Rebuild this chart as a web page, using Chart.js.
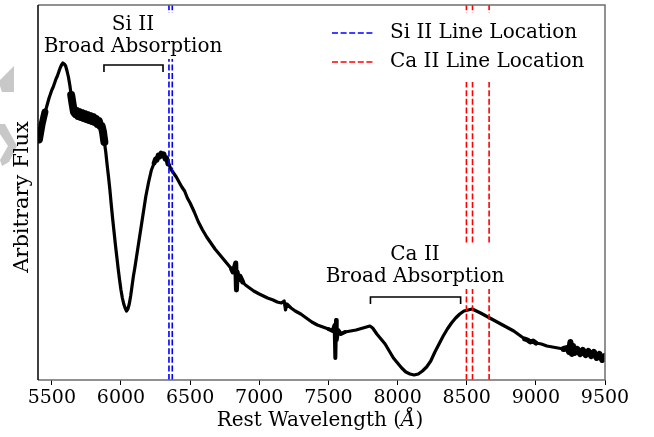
<!DOCTYPE html>
<html>
<head>
<meta charset="utf-8">
<script src="https://cdn.jsdelivr.net/npm/chart.js@4.4.1/dist/chart.umd.min.js"></script>
<style>
  html, body { margin: 0; padding: 0; background: #fff; }
  #wrap { width: 654px; height: 437px; position: relative; }
</style>
</head>
<body>
<div id="wrap"><canvas id="spectrum"></canvas></div>
<script>
// spectrum (flux in arbitrary units)
const wavelength = [
  5400, 5410, 5420, 5430, 5440, 5450, 5460, 5470, 5480, 5490,
  5500, 5510, 5520, 5530, 5540, 5550, 5560, 5570, 5580, 5590,
  5600, 5610, 5620, 5630, 5640, 5650, 5660, 5670, 5680, 5690,
  5700, 5710, 5720, 5730, 5740, 5750, 5760, 5770, 5780, 5790,
  5800, 5810, 5820, 5830, 5840, 5850, 5860, 5870, 5880, 5890,
  5900, 5910, 5920, 5930, 5940, 5950, 5960, 5970, 5980, 5990,
  6000, 6010, 6020, 6030, 6040, 6050, 6060, 6070, 6080, 6090,
  6100, 6110, 6120, 6140, 6160, 6180, 6200, 6220, 6240, 6250,
  6260, 6270, 6280, 6290, 6300, 6310, 6320, 6330, 6340, 6350,
  6360, 6380, 6400, 6420, 6440, 6460, 6480, 6500, 6530, 6560,
  6590, 6620, 6650, 6680, 6710, 6740, 6770, 6800, 6810, 6820,
  6830, 6835, 6840, 6850, 6860, 6880, 6900, 6930, 6960, 7000,
  7030, 7060, 7100, 7130, 7160, 7180, 7190, 7200, 7230, 7260,
  7300, 7340, 7380, 7420, 7460, 7500, 7530, 7545, 7550, 7555,
  7560, 7570, 7590, 7620, 7660, 7700, 7750, 7800, 7820, 7850,
  7880, 7910, 7940, 7970, 8000, 8030, 8060, 8090, 8120, 8150,
  8180, 8210, 8240, 8270, 8300, 8330, 8360, 8390, 8420, 8450,
  8480, 8510, 8540, 8570, 8600, 8640, 8680, 8720, 8760, 8800,
  8840, 8880, 8920, 8940, 8960, 8980, 9000, 9040, 9080, 9120,
  9160, 9200, 9230, 9240, 9250, 9260, 9270, 9280, 9300, 9320,
  9340, 9360, 9380, 9400, 9420, 9440, 9460, 9480, 9500
];
const flux = [
  244, 240, 248, 256, 262, 268, 272, 277, 282, 286,
  290, 293, 297, 301, 304, 308, 312, 315, 317, 316,
  314, 309, 303, 295, 285, 276, 268, 266, 269, 264,
  268, 263, 267, 262, 266, 261, 265, 260, 264, 259,
  263, 258, 261, 256, 259, 254, 254, 248, 238, 228,
  215, 203, 190, 175, 161, 148, 135, 123, 111, 100,
  90, 82, 76, 72, 69, 71, 76, 84, 94, 104,
  112, 121, 130, 148, 166, 184, 198, 210, 217, 221,
  220, 225, 223, 227, 224, 226, 221, 222, 216, 215,
  211, 207, 203, 198, 193, 189, 182, 177, 168, 158,
  150, 143, 137, 131, 126, 121, 116, 111, 108, 112,
  117, 90, 108, 100, 104, 98, 95, 92, 89, 86,
  84, 82, 80, 78, 77, 79, 70, 76, 72, 69,
  66, 62, 58, 55, 53, 51, 49, 55, 22, 60,
  40, 50, 46, 48, 49, 50, 52, 54, 52, 46,
  41, 36, 29, 22, 17, 12, 8, 6, 5, 6,
  9, 13, 19, 28, 36, 44, 51, 57, 62, 66,
  69, 70, 71, 69, 67, 64, 61, 58, 55, 52,
  49, 45, 41, 40, 38, 39, 37, 36, 34, 33,
  32, 31, 32, 28, 38, 26, 34, 27, 31, 26,
  30, 25, 29, 24, 28, 22, 26, 20, 24
];

// line locations (Angstrom)
const siLines = [6347, 6371];
const caLines = [8498, 8542, 8662];

const xTicks = [5500, 6000, 6500, 7000, 7500, 8000, 8500, 9000, 9500];

// annotation brackets: [start, end, level] and their labels
const siBracket = [5877, 6304, 315];
const caBracket = [7804, 8456, 83];
const siLabel = ["Si II", "Broad Absorption"];
const caLabel = ["Ca II", "Broad Absorption"];

const FONT = "DejaVu Serif";
Chart.defaults.font.family = FONT;
Chart.defaults.color = "#000";

// the noisier stretches of the spectrum are drawn with a thicker pen
const noisyBands = [
  [5400, 5450, 7], [5640, 5880, 8], [6240, 6340, 5], [6800, 6870, 5],
  [7500, 7620, 4], [8900, 9000, 5], [9200, 9500, 6],
];
function penWidth(ctx) {
  const x = ctx.p0.parsed.x;
  for (const b of noisyBands) {
    if (x >= b[0] && x < b[1]) return b[2];
  }
  return 3.2;
}

const spectrumPoints = wavelength.map((w, i) => ({ x: w, y: flux[i] }));

function vline(x, color, label) {
  return {
    label: label,
    data: [{ x: x, y: 0 }, { x: x, y: 375 }],
    borderColor: color,
    borderWidth: 1.6,
    borderDash: [6, 2.6],
    pointRadius: 0,
    order: 1,
  };
}

const datasets = [
  {
    label: "spectrum",
    data: spectrumPoints,
    borderColor: "#000",
    borderWidth: 3.2,
    borderJoinStyle: "round",
    borderCapStyle: "round",
    segment: { borderWidth: penWidth },
    pointRadius: 0,
    tension: 0,
    order: 2,
  },
];
siLines.forEach((l) => datasets.push(vline(l, "#0000ff", "Si II Line Location")));
caLines.forEach((l) => datasets.push(vline(l, "#ff0000", "Ca II Line Location")));

// draws the frame, brackets, labels, legend and axis titles
const extras = {
  id: "extras",
  beforeDraw(chart) {
    const ctx = chart.ctx;
    ctx.save();
    ctx.fillStyle = "#c8c8c8";
    ctx.beginPath();
    ctx.moveTo(14, 66); ctx.lineTo(14, 92); ctx.lineTo(2, 92); ctx.lineTo(0, 86); ctx.lineTo(0, 80);
    ctx.closePath(); ctx.fill();
    ctx.beginPath();
    ctx.moveTo(0, 124); ctx.lineTo(5, 124); ctx.lineTo(17, 146); ctx.lineTo(9, 162);
    ctx.lineTo(2, 166); ctx.lineTo(0, 160); ctx.lineTo(8, 146); ctx.lineTo(0, 134);
    ctx.closePath(); ctx.fill();
    ctx.restore();
  },
  afterDatasetsDraw(chart) {
    const ctx = chart.ctx;
    const xs = chart.scales.x, ys = chart.scales.y;
    const a = chart.chartArea;
    ctx.save();

    // brackets
    ctx.strokeStyle = "#000";
    ctx.lineWidth = 1.6;
    [siBracket, caBracket].forEach((b) => {
      const x0 = xs.getPixelForValue(b[0]), x1 = xs.getPixelForValue(b[1]);
      const y = ys.getPixelForValue(b[2]);
      ctx.beginPath();
      ctx.moveTo(x0, y + 7); ctx.lineTo(x0, y); ctx.lineTo(x1, y); ctx.lineTo(x1, y + 7);
      ctx.stroke();
    });

    // labels with white boxes
    ctx.font = "20px '" + FONT + "'";
    ctx.textAlign = "center";
    ctx.textBaseline = "middle";
    function label(lines, cx, cy1, cy2) {
      const w = Math.max(...lines.map((t) => ctx.measureText(t).width));
      ctx.fillStyle = "#fff";
      ctx.fillRect(cx - w / 2 - 4, cy1 - 12, w + 8, cy2 - cy1 + 24);
      ctx.fillStyle = "#000";
      ctx.fillText(lines[0], cx, cy1);
      ctx.fillText(lines[1], cx, cy2);
    }
    label(siLabel, 133, 25, 47);
    label(caLabel, 415, 255, 277);

    // legend
    ctx.fillStyle = "#fff";
    ctx.fillRect(326, 13, 270, 69);
    ctx.lineWidth = 1.6;
    ctx.setLineDash([6, 2.6]);
    [["#0000ff", 33], ["#ff0000", 62]].forEach((e) => {
      ctx.strokeStyle = e[0];
      ctx.beginPath(); ctx.moveTo(332, e[1]); ctx.lineTo(373, e[1]); ctx.stroke();
    });
    ctx.setLineDash([]);
    ctx.fillStyle = "#000";
    ctx.textAlign = "left";
    ctx.fillText("Si II Line Location", 390, 33);
    ctx.fillText("Ca II Line Location", 390, 62);

    // frame
    ctx.lineWidth = 1.5;
    ctx.strokeStyle = "#6e6e6e";
    ctx.beginPath();
    ctx.moveTo(a.left, a.bottom); ctx.lineTo(a.right, a.bottom); ctx.lineTo(a.right, a.top); ctx.lineTo(a.left, a.top);
    ctx.stroke();
    ctx.strokeStyle = "#000";
    ctx.beginPath(); ctx.moveTo(a.left, a.top); ctx.lineTo(a.left, a.bottom); ctx.stroke();

    // axis titles
    const reg = "20px '" + FONT + "'", ital = "italic 20px '" + FONT + "'";
    ctx.font = reg;
    const w1 = ctx.measureText("Rest Wavelength (").width;
    const w3 = ctx.measureText(")").width;
    ctx.font = ital;
    const w2 = ctx.measureText("Å").width;
    const x = 320 - (w1 + w2 + w3) / 2;
    ctx.textAlign = "left";
    ctx.font = reg;
    ctx.fillText("Rest Wavelength (", x, 421);
    ctx.font = ital;
    ctx.fillText("Å", x + w1, 421);
    ctx.font = reg;
    ctx.fillText(")", x + w1 + w2, 421);

    ctx.font = "21px '" + FONT + "'";
    ctx.translate(23, 197);
    ctx.rotate(-Math.PI / 2);
    ctx.textAlign = "center";
    ctx.fillText("Arbitrary Flux", 0, 0);
    ctx.restore();
  },
};

new Chart(document.getElementById("spectrum"), {
  type: "line",
  data: { datasets: datasets },
  plugins: [extras],
  options: {
    responsive: true,
    maintainAspectRatio: false,
    animation: false,
    layout: { padding: { top: 5, right: 49, left: 0, bottom: 0 } },
    plugins: { legend: { display: false }, tooltip: { enabled: false } },
    scales: {
      x: {
        type: "linear",
        min: 5400,
        max: 9500,
        afterBuildTicks: (s) => { s.ticks = xTicks.map((v) => ({ value: v })); },
        afterFit: (s) => { s.height = 57; },
        grid: { display: true, drawOnChartArea: false, tickLength: 5, tickColor: "#000" },
        border: { display: false },
        ticks: { font: { size: 19 }, color: "#000", padding: 2, maxRotation: 0, callback: (v) => String(v) },
      },
      y: {
        min: 0,
        max: 375,
        afterFit: (s) => { s.width = 38; },
        grid: { display: false },
        border: { display: false },
        ticks: { display: false },
      },
    },
  },
});
</script>
</body>
</html>
